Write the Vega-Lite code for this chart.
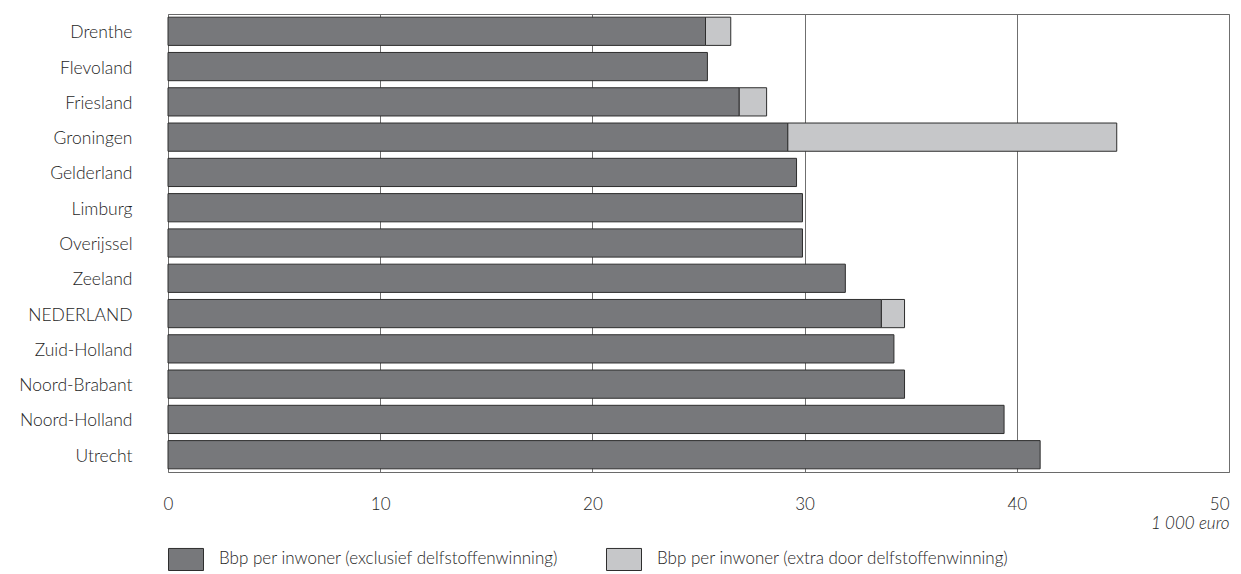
{
  "$schema": "https://vega.github.io/schema/vega-lite/v6.json",
  "autosize": "none",
  "width": 1061,
  "height": 458,
  "padding": {"left": 168, "top": 14, "right": 12, "bottom": 102},
  "background": "white",
  "config": {
    "font": "Lato",
    "view": {"stroke": "#6a6a6a", "strokeWidth": 1},
    "axis": {"labelColor": "#1e1e1e", "titleColor": "#1e1e1e", "labelFont": "Lato", "titleFont": "Lato", "labelFontWeight": 300, "titleFontWeight": 300}
  },
  "data": {
    "values": [
      {"regio": "Drenthe", "soort": "Bbp per inwoner (exclusief delfstoffenwinning)", "waarde": 25.33},
      {"regio": "Drenthe", "soort": "Bbp per inwoner (extra door delfstoffenwinning)", "waarde": 1.19},
      {"regio": "Flevoland", "soort": "Bbp per inwoner (exclusief delfstoffenwinning)", "waarde": 25.42},
      {"regio": "Friesland", "soort": "Bbp per inwoner (exclusief delfstoffenwinning)", "waarde": 26.92},
      {"regio": "Friesland", "soort": "Bbp per inwoner (extra door delfstoffenwinning)", "waarde": 1.29},
      {"regio": "Groningen", "soort": "Bbp per inwoner (exclusief delfstoffenwinning)", "waarde": 29.21},
      {"regio": "Groningen", "soort": "Bbp per inwoner (extra door delfstoffenwinning)", "waarde": 15.5},
      {"regio": "Gelderland", "soort": "Bbp per inwoner (exclusief delfstoffenwinning)", "waarde": 29.62},
      {"regio": "Limburg", "soort": "Bbp per inwoner (exclusief delfstoffenwinning)", "waarde": 29.9},
      {"regio": "Overijssel", "soort": "Bbp per inwoner (exclusief delfstoffenwinning)", "waarde": 29.9},
      {"regio": "Zeeland", "soort": "Bbp per inwoner (exclusief delfstoffenwinning)", "waarde": 31.92},
      {"regio": "NEDERLAND", "soort": "Bbp per inwoner (exclusief delfstoffenwinning)", "waarde": 33.62},
      {"regio": "NEDERLAND", "soort": "Bbp per inwoner (extra door delfstoffenwinning)", "waarde": 1.09},
      {"regio": "Zuid-Holland", "soort": "Bbp per inwoner (exclusief delfstoffenwinning)", "waarde": 34.21},
      {"regio": "Noord-Brabant", "soort": "Bbp per inwoner (exclusief delfstoffenwinning)", "waarde": 34.71},
      {"regio": "Noord-Holland", "soort": "Bbp per inwoner (exclusief delfstoffenwinning)", "waarde": 39.4},
      {"regio": "Utrecht", "soort": "Bbp per inwoner (exclusief delfstoffenwinning)", "waarde": 41.1}
    ]
  },
  "mark": {"type": "bar", "stroke": "#2e2e2e", "strokeWidth": 1},
  "encoding": {
    "y": {
      "field": "regio",
      "type": "nominal",
      "sort": ["Drenthe", "Flevoland", "Friesland", "Groningen", "Gelderland", "Limburg", "Overijssel", "Zeeland", "NEDERLAND", "Zuid-Holland", "Noord-Brabant", "Noord-Holland", "Utrecht"],
      "scale": {"paddingInner": 0.2, "paddingOuter": 0.09},
      "axis": {"title": null, "domain": false, "ticks": false, "labelPadding": 36, "labelFontSize": 17.5, "labelOffset": 2}
    },
    "x": {
      "field": "waarde",
      "type": "quantitative",
      "stack": "zero",
      "scale": {"domain": [0, 50], "nice": false},
      "axis": {
        "title": "1 000 euro",
        "titleFontStyle": "italic",
        "titleFontSize": 17,
        "titleAnchor": "end",
        "titleAlign": "right",
        "titlePadding": 3,
        "values": [0, 10, 20, 30, 40, 50],
        "domain": false,
        "ticks": false,
        "tickSize": 0,
        "labelFlush": false,
        "labelAlign": {"condition": {"test": "datum.value == 50", "value": "right"}, "value": "center"},
        "labelPadding": 24,
        "labelFontSize": 17,
        "grid": true,
        "gridColor": "#6f6f6f",
        "gridWidth": 1
      }
    },
    "color": {
      "field": "soort",
      "type": "nominal",
      "scale": {
        "domain": ["Bbp per inwoner (exclusief delfstoffenwinning)", "Bbp per inwoner (extra door delfstoffenwinning)"],
        "range": ["#77787b", "#c6c7c9"]
      },
      "legend": {
        "title": null,
        "orient": "none",
        "direction": "horizontal",
        "legendX": 0,
        "legendY": 527,
        "symbolType": "M-1,-0.63H1V0.63H-1Z",
        "symbolSize": 1225,
        "symbolStrokeColor": "#2e2e2e",
        "symbolStrokeWidth": 1,
        "symbolOpacity": 1,
        "labelFontSize": 17,
        "labelFontWeight": 300,
        "labelColor": "#1e1e1e",
        "labelOffset": 15,
        "labelLimit": 500,
        "columnPadding": 45
      }
    },
    "order": {"field": "soort", "sort": "ascending"}
  }
}
